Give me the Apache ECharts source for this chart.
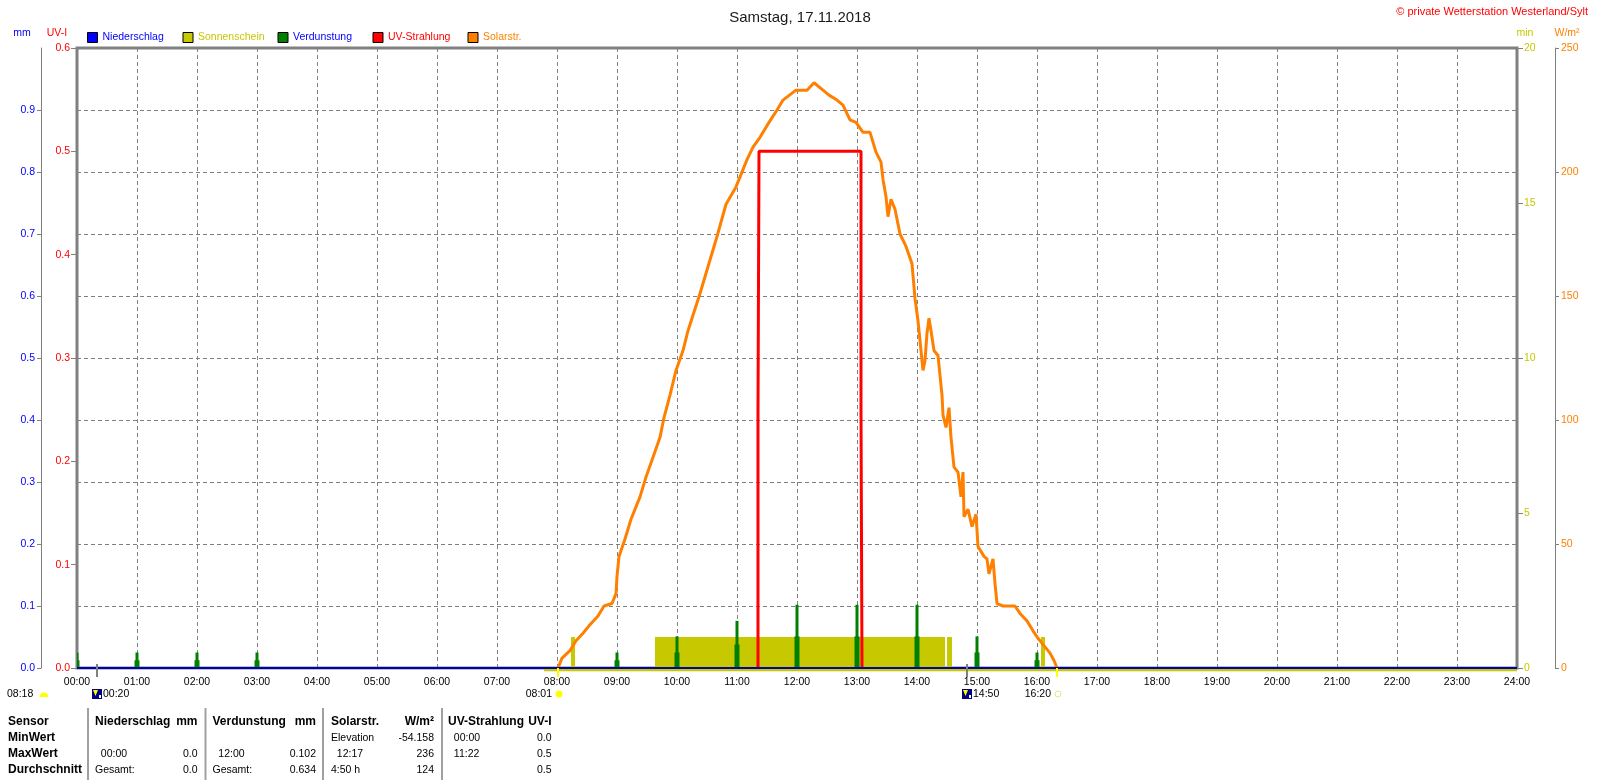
<!DOCTYPE html>
<html>
<head>
<meta charset="utf-8">
<title>Samstag, 17.11.2018</title>
<script src="https://cdn.jsdelivr.net/npm/echarts@6.0.0/dist/echarts.min.js"></script>
<style>
  html, body { margin: 0; padding: 0; background: #fff; }
  #main { width: 1600px; height: 780px; }
</style>
</head>
<body>
<div id="main"></div>
<script>
// Solarstrahlung W/m2
var solarTimes = ['08:01','08:05','08:13','08:19','08:26','08:32','08:41','08:47','08:55','08:59',
  '09:00','09:02','09:08','09:14','09:23','09:29','09:36','09:43','09:47','09:53','09:59',
  '10:06','10:11','10:23','10:40','10:49','10:59','11:10','11:16','11:23','11:32','11:40','11:46','11:59',
  '12:10','12:17','12:26','12:32','12:40','12:46','12:53','12:59','13:06','13:13','13:19','13:24','13:26',
  '13:29','13:31','13:34','13:38','13:43','13:49','13:55','13:58','14:01','14:04','14:06','14:08','14:10',
  '14:12','14:14','14:17','14:21','14:23','14:25','14:26','14:29','14:32','14:34','14:37','14:41','14:44',
  '14:46','14:47','14:51','14:55','14:59','15:01','15:07','15:10','15:12','15:16','15:18','15:20','15:26',
  '15:38','15:43','15:50','15:56','16:01','16:07','16:13','16:17','16:20'];
var solarValues = [0,4,7,11,14,17,21,25,26,30,
  37,45,52,60,69,77,85,93,101,110,120,
  128,136,151,174,187,194,205,210,214,220,225,229,233,
  233,236,233,231,229,227,221,220,216,216,208,204,197,
  190,182,189,185,175,170,163,149,140,128,120,124,135,
  141,136,128,126,118,110,102,97,105,93,81,79,69,
  79,61,64,57,62,49,45,44,38,44,34,26,25,
  25,22,19,15,12,9,6,3,0];

// UV-Index
var uvTimes = ['11:21','11:21','11:22','11:22','13:04','13:04','13:05','13:05'];
var uvValues = [0, 0.25, 0.25, 0.5, 0.5, 0.25, 0.25, 0];

// Niederschlag mm
var rainTimes = ['00:00','24:00'];
var rainValues = [0, 0];

// Verdunstung mm (hourly, narrow bar and wide foot)
var evapTimes = ['00:00','01:00','02:00','03:00','09:00','10:00','11:00','12:00','13:00','14:00','15:00','16:00'];
var evapValues = [0.025,0.025,0.025,0.025,0.025,0.051,0.076,0.102,0.102,0.102,0.051,0.025];
var evapFoot = [0.0125,0.0125,0.0125,0.0125,0.0125,0.025,0.038,0.051,0.051,0.051,0.025,0.0125];

// Sonnenschein min
var sunStart = ['08:14','09:38','14:30','16:04'];
var sunEnd = ['08:18','14:28','14:35','16:08'];
var sunValues = [1, 1, 1, 1];
var sunLineStart = '07:47', sunLineEnd = '24:00';

// Sonne / Mond
var eventTimes = ['00:20','08:01','14:50','16:20'];
var eventKinds = ['moon','sunrise','moon','sunset'];
var dayLength = '08:18';

// axis ticks
var mmTicks = [0,0.1,0.2,0.3,0.4,0.5,0.6,0.7,0.8,0.9];
var uvTicks = [0,0.1,0.2,0.3,0.4,0.5,0.6];
var minTicks = [0,5,10,15,20];
var wTicks = [0,50,100,150,200,250];

// legend
var legendNames = ['Niederschlag','Sonnenschein','Verdunstung','UV-Strahlung','Solarstr.'];
var legendColors = ['#0000ff','#c8c800','#008000','#ff0000','#ff8000'];
var legendTextColors = ['#0000ff','#c8c800','#0000ff','#ff0000','#ff8000'];

// table
var tableHead = [['Niederschlag','mm'],['Verdunstung','mm'],['Solarstr.','W/m²'],['UV-Strahlung','UV-I']];
var tableRowNames = ['Sensor','MinWert','MaxWert','Durchschnitt'];
var tableMin = [['',''],['',''],['Elevation','-54.158'],['  00:00','0.0']];
var tableMax = [['  00:00','0.0'],['  12:00','0.102'],['  12:17','236'],['  11:22','0.5']];
var tableAvg = [['Gesamt:','0.0'],['Gesamt:','0.634'],['4:50 h','124'],['','0.5']];

var FONT = 'Liberation Sans, Arial, sans-serif';
var GRID = '#808080';

function toMin(s) {
  var p = s.split(':');
  return (+p[0]) * 60 + (+p[1]);
}
function pair(times, vals) {
  return times.map(function (t, i) { return [toMin(t), vals[i]]; });
}
function pad(n) { return (n < 10 ? '0' : '') + n; }

var myChart = echarts.init(document.getElementById('main'));

function renderSun(params, api) {
  var p0 = api.coord([api.value(0), api.value(2)]);
  var p1 = api.coord([api.value(1), 0]);
  return { type: 'rect', shape: { x: p0[0], y: p0[1], width: p1[0] - p0[0], height: p1[1] - p0[1] },
    style: { fill: '#c8c800' } };
}
function renderSunLine(params, api) {
  var p0 = api.coord([api.value(0), 0]);
  var p1 = api.coord([api.value(1), 0]);
  return { type: 'line', shape: { x1: p0[0], y1: p0[1] + 2, x2: p1[0], y2: p1[1] + 2 },
    style: { stroke: '#c8c800', lineWidth: 2.5 } };
}
function renderEvap(params, api) {
  var t = api.value(0);
  var top = api.coord([t, api.value(1)]);
  var foot = api.coord([t, api.value(2)]);
  var base = api.coord([t, 0]);
  return { type: 'group', children: [
    { type: 'rect', shape: { x: top[0] - 2.5, y: foot[1], width: 5, height: base[1] - foot[1] }, style: { fill: '#008000' } },
    { type: 'rect', shape: { x: top[0] - 1.5, y: top[1], width: 3, height: base[1] - top[1] }, style: { fill: '#008000' } }
  ] };
}
function renderEvent(params, api) {
  var i = api.value(2);
  var p = api.coord([api.value(0), 0]);
  var x = Math.round(p[0]), y = p[1];
  var label = eventTimes[i], kind = eventKinds[i];
  var ch = [];
  var ty = y + 26;
  if (kind === 'moon') {
    ch.push({ type: 'rect', shape: { x: x - 1, y: y - 4, width: 2, height: 13 }, style: { fill: GRID } });
    ch.push({ type: 'rect', shape: { x: x - 5, y: ty - 5, width: 10, height: 10 }, style: { fill: '#000080' } });
    ch.push({ type: 'polygon', shape: { points: [[x - 4, ty - 4], [x + 1, ty - 4], [x - 1.5, ty + 2]] }, style: { fill: '#ffff00' } });
    ch.push({ type: 'rect', shape: { x: x + 2, y: ty + 1, width: 2, height: 3 }, style: { fill: '#ffffff' } });
    ch.push({ type: 'text', style: { text: label, x: x + 6, y: ty, fill: '#000', font: '10.5px ' + FONT, align: 'left', verticalAlign: 'middle' } });
  } else {
    ch.push({ type: 'rect', shape: { x: x - 1, y: y, width: 2, height: 9 }, style: { fill: '#ffff00' } });
    if (kind === 'sunrise') {
      ch.push({ type: 'circle', shape: { cx: x + 1, cy: ty, r: 3.5 }, style: { fill: '#ffff00' } });
    } else {
      ch.push({ type: 'circle', shape: { cx: x + 1, cy: ty, r: 3 }, style: { fill: '#fff', stroke: '#e6e680', lineWidth: 1 } });
    }
    ch.push({ type: 'text', style: { text: label, x: x - 6, y: ty, fill: '#000', font: '10.5px ' + FONT, align: 'right', verticalAlign: 'middle' } });
  }
  return { type: 'group', children: ch };
}

// table graphic
var rowY = [722, 738, 754, 770];
var colL = [95, 212.5, 331, 448];
var colR = [197.5, 316, 434, 551.5];
var sepX = [88, 205.5, 323, 442];
var graphics = [];
function txt(x, y, s, align, bold, color, size) {
  graphics.push({ type: 'text', silent: true,
    style: { text: s, x: x, y: y, fill: color || '#000', font: (bold ? 'bold ' : '') + (size || (bold ? 12 : 10.5)) + 'px ' + FONT,
      align: align, verticalAlign: 'middle' } });
}
tableRowNames.forEach(function (n, r) { txt(8, rowY[r], n, 'left', true); });
[tableHead, tableMin, tableMax, tableAvg].forEach(function (row, r) {
  row.forEach(function (c, g) {
    if (c[0]) txt(colL[g], rowY[r], c[0], 'left', r === 0);
    if (c[1]) txt(colR[g], rowY[r], c[1], 'right', r === 0);
  });
});
sepX.forEach(function (x) {
  graphics.push({ type: 'line', silent: true, shape: { x1: x, y1: 708, x2: x, y2: 780 },
    style: { stroke: '#a0a0a0', lineWidth: 2 } });
});
// units and header texts
txt(22, 33, 'mm', 'center', false, '#0000ff');
txt(57, 33, 'UV-I', 'center', false, '#ff0000');
txt(1525, 33, 'min', 'center', false, '#c8c800');
txt(1567, 33, 'W/m²', 'center', false, '#ff8000');
txt(1588, 12, '© private Wetterstation Westerland/Sylt', 'right', false, '#ff0000', 11);
txt(7, 694, dayLength, 'left', false);
graphics.push({ type: 'sector', silent: true, shape: { cx: 44, cy: 697, r: 4.5, startAngle: Math.PI, endAngle: Math.PI * 2 },
  style: { fill: '#ffff00' } });

function tickFmt(v) { return v.toFixed(1); }

// one legend block per item, evenly spaced like the original
var legendLeft = [87, 182.5, 277.5, 372.5, 467.5];
var legends = legendNames.map(function (n, i) {
  return {
    left: legendLeft[i], top: 32, padding: 0, itemWidth: 10, itemHeight: 10, itemGap: 0,
    selectedMode: false, icon: 'rect',
    textStyle: { fontSize: 10.5, fontFamily: FONT, color: legendTextColors[i] },
    data: [{ name: n, itemStyle: { color: legendColors[i], borderColor: '#000', borderWidth: 1 } }]
  };
});

var option = {
  animation: false,
  textStyle: { fontFamily: FONT },
  title: {
    text: 'Samstag, 17.11.2018', left: 'center', top: 5,
    textStyle: { fontSize: 15, fontWeight: 'normal', color: '#1a1a1a', fontFamily: FONT }
  },
  legend: legends,
  grid: { left: 77, right: 83, top: 48, bottom: 112, show: true, borderColor: GRID, borderWidth: 3, backgroundColor: 'transparent' },
  xAxis: {
    type: 'value', min: 0, max: 1440, interval: 60,
    axisLine: { show: false }, axisTick: { show: false },
    axisLabel: { color: '#000', fontSize: 10.5, margin: 9,
      formatter: function (v) { return pad(Math.round(v / 60)) + ':00'; } },
    splitLine: { show: true, lineStyle: { color: GRID, type: [4, 3], width: 1 } }
  },
  yAxis: [
    { type: 'value', min: 0, max: 1, interval: 0.1, position: 'left', offset: 36,
      axisLine: { show: true, onZero: false, lineStyle: { color: GRID, width: 1 } },
      axisTick: { show: true, length: 4, lineStyle: { color: GRID }, customValues: mmTicks },
      axisLabel: { color: '#0000ff', fontSize: 10.5, margin: 6, formatter: tickFmt, customValues: mmTicks },
      splitLine: { show: true, lineStyle: { color: GRID, type: [4, 3], width: 1 } } },
    { type: 'value', min: 0, max: 0.6, interval: 0.1, position: 'left', offset: 0,
      axisLine: { show: false, onZero: false },
      axisTick: { show: true, length: 6, lineStyle: { color: GRID }, customValues: uvTicks },
      axisLabel: { color: '#ff0000', fontSize: 10.5, margin: 7, formatter: tickFmt, customValues: uvTicks },
      splitLine: { show: false } },
    { type: 'value', min: 0, max: 20, interval: 5, position: 'right', offset: 0,
      axisLine: { show: false, onZero: false },
      axisTick: { show: true, length: 6, lineStyle: { color: GRID }, customValues: minTicks },
      axisLabel: { color: '#c8c800', fontSize: 10.5, margin: 7, customValues: minTicks },
      splitLine: { show: false } },
    { type: 'value', min: 0, max: 250, interval: 50, position: 'right', offset: 38,
      axisLine: { show: true, onZero: false, lineStyle: { color: GRID, width: 1 } },
      axisTick: { show: true, length: 4, lineStyle: { color: GRID }, customValues: wTicks },
      axisLabel: { color: '#ff8000', fontSize: 10.5, margin: 6, customValues: wTicks },
      splitLine: { show: false } }
  ],
  series: [
    { name: 'Sonnenschein', type: 'custom', yAxisIndex: 2, z: 2, clip: true, silent: true,
      itemStyle: { color: '#c8c800' },
      renderItem: renderSun, encode: { x: [0, 1], y: 2 },
      data: sunStart.map(function (s, i) { return [toMin(s), toMin(sunEnd[i]), sunValues[i]]; }) },
    { name: 'sunline', type: 'custom', yAxisIndex: 2, z: 3, clip: false, silent: true,
      renderItem: renderSunLine, encode: { x: [0, 1], y: 2 },
      data: [[toMin(sunLineStart), toMin(sunLineEnd), 0]] },
    { name: 'Verdunstung', type: 'custom', yAxisIndex: 0, z: 3, clip: true, silent: true,
      itemStyle: { color: '#008000' },
      renderItem: renderEvap, encode: { x: 0, y: [1, 2] },
      data: evapTimes.map(function (t, i) { return [toMin(t), evapValues[i], evapFoot[i]]; }) },
    { name: 'UV-Strahlung', type: 'line', yAxisIndex: 1, z: 4, symbol: 'none', silent: true,
      lineStyle: { color: '#ff0000', width: 3 }, itemStyle: { color: '#ff0000' },
      data: pair(uvTimes, uvValues) },
    { name: 'Solarstr.', type: 'line', yAxisIndex: 3, z: 5, symbol: 'none', silent: true,
      lineStyle: { color: '#ff8000', width: 3 }, itemStyle: { color: '#ff8000' },
      data: pair(solarTimes, solarValues) },
    { name: 'Niederschlag', type: 'line', yAxisIndex: 0, z: 6, symbol: 'none', silent: true,
      lineStyle: { color: '#0000b4', width: 2 }, itemStyle: { color: '#0000ff' },
      data: pair(rainTimes, rainValues) },
    { name: 'events', type: 'custom', yAxisIndex: 0, z: 7, clip: false, silent: true,
      renderItem: renderEvent, encode: { x: 0, y: 1 },
      data: eventTimes.map(function (t, i) { return [toMin(t), 0, i]; }) }
  ],
  graphic: graphics
};

myChart.setOption(option);
</script>
</body>
</html>
